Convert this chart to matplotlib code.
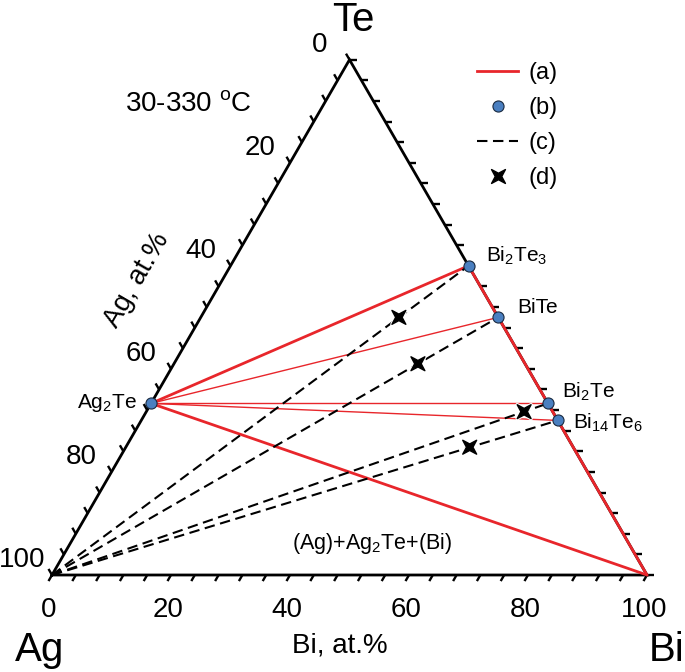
import numpy as np
import matplotlib
matplotlib.use('Agg')
import matplotlib.pyplot as plt
from matplotlib.path import Path
from matplotlib.lines import Line2D
from matplotlib.collections import LineCollection
import matplotlib.patheffects as pe

plt.rcParams['font.family'] = ['Liberation Sans', 'DejaVu Sans']
plt.rcParams['mathtext.fontset'] = 'custom'
plt.rcParams['mathtext.rm'] = 'Liberation Sans'
plt.rcParams['mathtext.default'] = 'regular'
plt.rcParams['lines.scale_dashes'] = False

# ---------------- data (at.%) : composition = (Bi, Te), Ag = 100 - Bi - Te
corner_bi = {'Ag': 0.0, 'Bi': 100.0, 'Te': 0.0}
corner_te = {'Ag': 0.0, 'Bi': 0.0, 'Te': 100.0}

phase_keys = ['Ag2Te', 'Bi2Te3', 'BiTe', 'Bi2Te', 'Bi14Te6']
phase_labels = ['Ag$_2$Te', 'Bi$_2$Te$_3$', 'BiTe', 'Bi$_2$Te', 'Bi$_{14}$Te$_6$']
phase_bi = [0.0, 40.0, 50.0, 66.7, 70.0]
phase_te = [33.3, 60.0, 50.0, 33.3, 30.0]

# (a) tie lines
thick_ties = [('Ag2Te', 'Bi2Te3'), ('Ag2Te', 'Bi'), ('Bi2Te3', 'Bi')]
thin_ties = [('Ag2Te', 'BiTe'), ('Ag2Te', 'Bi2Te'), ('Ag2Te', 'Bi14Te6')]
# (c) sections
sections = [('Ag', 'Bi2Te3'), ('Ag', 'BiTe'), ('Ag', 'Bi2Te'), ('Ag', 'Bi14Te6')]
# (d) alloys
alloy_bi = [33.3, 41.0, 63.5, 57.8]
alloy_te = [50.0, 41.0, 31.7, 24.8]

tick_values = list(range(0, 101, 4))
label_values = [0, 20, 40, 60, 80, 100]

legend_labels = ['(a)', '(b)', '(c)', '(d)']

# ---------------- helpers
H = np.sqrt(3) / 2


def tern(bi, te):
    bi = np.asarray(bi, float) / 100.0
    te = np.asarray(te, float) / 100.0
    return bi + te / 2.0, te * H


comp_bi = dict(corner_bi)
comp_te = dict(corner_te)
for k, b, t in zip(phase_keys, phase_bi, phase_te):
    comp_bi[k] = b
    comp_te[k] = t


def seg(a, b):
    x, y = tern([comp_bi[a], comp_bi[b]], [comp_te[a], comp_te[b]])
    return x, y


RED = '#e8262b'
BLUE = '#4a7fc0'
DASH = (7.5, 4)

fig = plt.figure(figsize=(6.85, 6.72), dpi=100)
ax = fig.add_axes([0, 0, 1, 1])
S = 595.0
ax.set_xlim(-52 / S, 633 / S)
ax.set_ylim(-97 / S, 575 / S)
ax.axis('off')

# triangle
tx, ty = tern([corner_bi['Ag'], corner_bi['Bi'], corner_bi['Te'], corner_bi['Ag']],
              [corner_te['Ag'], corner_te['Bi'], corner_te['Te'], corner_te['Ag']])
ax.plot(tx, ty, color='black', lw=2.0, solid_joinstyle='miter', zorder=2)

# ticks
L = 7 / S
segs = []
for v in tick_values:
    x0, y0 = tern(v, 0)
    segs.append([(x0, y0), (x0 - 0.5 * L, y0 - H * L)])
    x0, y0 = tern(0, 100 - v)
    segs.append([(x0, y0), (x0 - 0.5 * L, y0 + H * L)])
    x0, y0 = tern(100 - v, v)
    segs.append([(x0, y0), (x0 + L, y0)])
ax.add_collection(LineCollection(segs, colors='black', linewidths=1.7, zorder=2))

# tick labels
for v in label_values:
    x0, y0 = tern(0, 100 - v)
    ax.annotate(str(v), (x0, y0), xytext=(-30, 15), textcoords='offset pixels',
                ha='center', va='center', fontsize=20)
    x0, y0 = tern(v, 0)
    ax.annotate(str(v), (x0, y0), xytext=(-3, -35), textcoords='offset pixels',
                ha='center', va='center', fontsize=20)

# red tie lines
for a, b in thick_ties:
    x, y = seg(a, b)
    ax.plot(x, y, color=RED, lw=2.0, solid_capstyle='round', zorder=3)
for a, b in thin_ties:
    x, y = seg(a, b)
    ax.plot(x, y, color=RED, lw=1.0, zorder=3)

# dashed sections
for a, b in sections:
    x, y = seg(a, b)
    ax.plot(x, y, color='black', lw=1.5, dashes=DASH, zorder=4)

# phases
px, py = tern(phase_bi, phase_te)
ax.plot(px, py, 'o', ms=8, mfc=BLUE, mec='#1a2a40', mew=0.8, ls='none', zorder=6)

# alloys: four-pointed star marker
ang_out = np.deg2rad(45 + 90 * np.arange(4))
ang_in = np.deg2rad(90 * np.arange(4) + 90)
verts = []
for ao, ai in zip(ang_out, ang_in):
    verts.append((np.cos(ao), np.sin(ao)))
    verts.append((0.33 * np.cos(ai), 0.33 * np.sin(ai)))
verts.append(verts[0])
star = Path(verts, closed=True)
axx, axy = tern(alloy_bi, alloy_te)
ax.plot(axx, axy, marker=star, ms=10, color='black', ls='none', zorder=7,
        path_effects=[pe.withStroke(linewidth=2.5, foreground='white')])

# phase labels
offsets = [(-14, 0, 'right'), (17, 10, 'left'), (19, 10, 'left'), (14, 12, 'left'), (15, -2, 'left')]
for (dx, dy, ha), lab, x0, y0 in zip(offsets, phase_labels, px, py):
    ax.annotate(lab, (x0, y0), xytext=(dx, dy), textcoords='offset pixels',
                ha=ha, va='center', fontsize=15)


def fig_text(xp, yp, s, **kw):
    fig.text(xp / 685.0, 1 - yp / 672.0, s, **kw)


fig_text(353, 20, 'Te', ha='center', va='center', fontsize=29)
fig_text(40, 650, 'Ag', ha='center', va='center', fontsize=29)
fig_text(667, 650, 'Bi', ha='center', va='center', fontsize=29)
fig_text(340, 645, 'Bi, at.%', ha='center', va='center', fontsize=20)
fig_text(137, 280, 'Ag, at.%', ha='center', va='center', fontsize=20, rotation=60,
         rotation_mode='anchor')
fig_text(125, 104, '30-330 $^{o}$C', ha='left', va='center', fontsize=20)
fig_text(372, 543, '(Ag)+Ag$_2$Te+(Bi)', ha='center', va='center', fontsize=15.5)

# legend
handles = [
    Line2D([], [], color=RED, lw=2.0),
    Line2D([], [], marker='o', ms=8, mfc=BLUE, mec='#1a2a40', mew=0.8, ls='none'),
    Line2D([], [], color='black', lw=1.5, dashes=DASH),
    Line2D([], [], marker=star, ms=10, color='black', ls='none'),
]
leg = fig.legend(handles, legend_labels, loc='upper left', bbox_to_anchor=(477 / 685, 1 - 62 / 672),
                 frameon=False, fontsize=17, handlelength=1.75, handletextpad=0.45,
                 labelspacing=0.55, borderpad=0, borderaxespad=0)

fig.savefig('out.png', dpi=100)
